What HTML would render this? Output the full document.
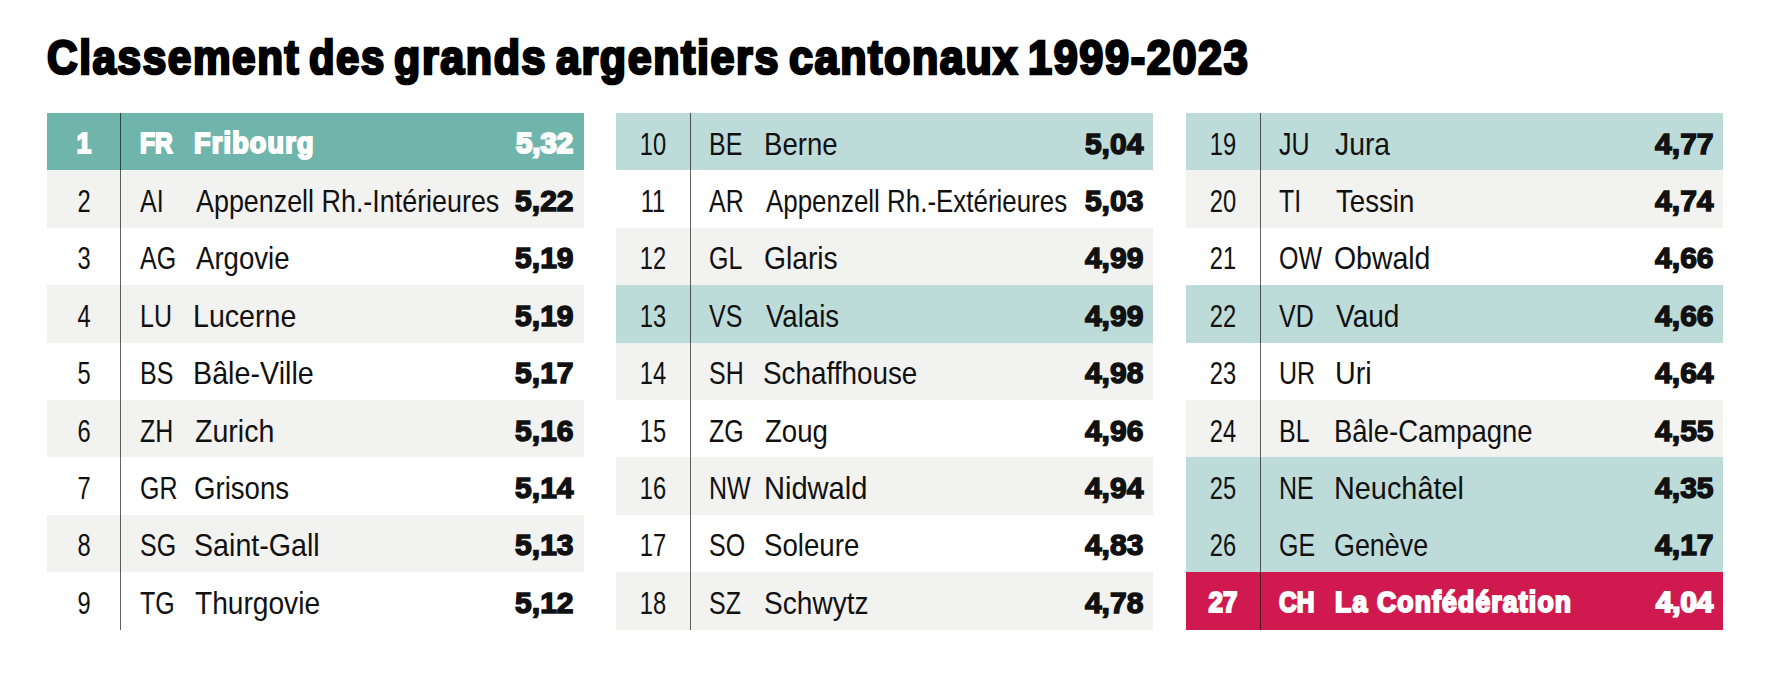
<!DOCTYPE html>
<html lang="fr"><head><meta charset="utf-8"><title>Classement des grands argentiers cantonaux 1999-2023</title>
<style>
html,body{margin:0;padding:0;background:#fff;}
body{width:1770px;height:677px;position:relative;overflow:hidden;font-family:"Liberation Sans",Arial,sans-serif;color:#111;}
h1{position:absolute;left:0;top:33.8px;margin:0;font-size:48px;line-height:1;font-weight:700;white-space:nowrap;-webkit-text-stroke:2.7px #000;color:#000;}
h1 span{position:absolute;top:0;transform-origin:0 0;letter-spacing:1.8px;}
.col{position:absolute;top:113px;width:537px;height:516.6px;}
.row{position:absolute;left:0;width:537px;height:57.4px;}
.row span{position:absolute;top:14.5px;font-size:32px;line-height:1;white-space:nowrap;}
.rk{left:0;width:74px;text-align:center;transform-origin:50% 0;transform:scaleX(0.74);}
.cd{left:93.5px;transform-origin:0 0;transform:scaleX(0.78);}
.nm{transform-origin:0 0;}
.vl{right:10.5px;font-weight:700;transform-origin:100% 0;transform:scaleX(1.0);-webkit-text-stroke:1.5px currentColor;}
.row:not(.hl1):not(.hl2) .vl{font-size:30px;top:15.5px;}
.g{background:#f2f2f0;}
.t{background:#bddbd8;}
.hl1{background:#70b5ab;color:#fff;}
.hl2{background:#d01a4f;color:#fff;}
.hl1 span,.hl2 span{font-weight:700;-webkit-text-stroke:2.1px currentColor;font-size:28.8px;top:16px;}
.hl1 .nm,.hl2 .nm{letter-spacing:1.3px;}
.hl1 .rk,.hl2 .rk{transform:scaleX(0.9);}
.hl1 .cd,.hl2 .cd{transform:scaleX(0.85);}
.hl1 .vl,.hl2 .vl{transform:scaleX(1.02);}
.line{position:absolute;left:74px;top:0;width:1px;height:516.6px;background:rgba(0,0,0,0.62);}
</style></head><body>
<h1><span style="left:47.0px;transform:scaleX(0.8811)">Classement</span> <span style="left:309.4px;transform:scaleX(0.8706)">des</span> <span style="left:394.1px;transform:scaleX(0.8964)">grands</span> <span style="left:556.0px;transform:scaleX(0.8952)">argentiers</span> <span style="left:788.9px;transform:scaleX(0.8973)">cantonaux</span> <span style="left:1027.6px;transform:scaleX(0.9012)">1999-2023</span></h1>
<div class="col" style="left:47px">
<div class="row hl1" style="top:0.0px"><span class="rk">1</span><span class="cd" style="left:92.5px">FR</span><span class="nm" style="left:147.16px;transform:scaleX(0.9368)">Fribourg</span><span class="vl" style="right:10.5px">5,32</span></div>
<div class="row g" style="top:57.4px"><span class="rk">2</span><span class="cd" style="left:92.5px">AI</span><span class="nm" style="left:148.60px;transform:scaleX(0.8400)">Appenzell Rh.-Intérieures</span><span class="vl" style="right:10.5px">5,22</span></div>
<div class="row w" style="top:114.8px"><span class="rk">3</span><span class="cd" style="left:92.5px">AG</span><span class="nm" style="left:148.60px;transform:scaleX(0.8626)">Argovie</span><span class="vl" style="right:10.5px">5,19</span></div>
<div class="row g" style="top:172.2px"><span class="rk">4</span><span class="cd" style="left:92.5px">LU</span><span class="nm" style="left:145.92px;transform:scaleX(0.8937)">Lucerne</span><span class="vl" style="right:10.5px">5,19</span></div>
<div class="row w" style="top:229.6px"><span class="rk">5</span><span class="cd" style="left:92.5px">BS</span><span class="nm" style="left:145.91px;transform:scaleX(0.8969)">Bâle-Ville</span><span class="vl" style="right:10.5px">5,17</span></div>
<div class="row g" style="top:287.0px"><span class="rk">6</span><span class="cd" style="left:92.5px">ZH</span><span class="nm" style="left:147.71px;transform:scaleX(0.8919)">Zurich</span><span class="vl" style="right:10.5px">5,16</span></div>
<div class="row w" style="top:344.4px"><span class="rk">7</span><span class="cd" style="left:92.5px">GR</span><span class="nm" style="left:146.87px;transform:scaleX(0.8626)">Grisons</span><span class="vl" style="right:10.5px">5,14</span></div>
<div class="row g" style="top:401.8px"><span class="rk">8</span><span class="cd" style="left:92.5px">SG</span><span class="nm" style="left:146.81px;transform:scaleX(0.8949)">Saint-Gall</span><span class="vl" style="right:10.5px">5,13</span></div>
<div class="row w" style="top:459.2px"><span class="rk">9</span><span class="cd" style="left:92.5px">TG</span><span class="nm" style="left:147.72px;transform:scaleX(0.8786)">Thurgovie</span><span class="vl" style="right:10.5px">5,12</span></div>
<div class="line" style="left:73px"></div></div>
<div class="col" style="left:616px">
<div class="row t" style="top:0.0px"><span class="rk">10</span><span class="cd" style="left:92.8px">BE</span><span class="nm" style="left:147.81px;transform:scaleX(0.8617)">Berne</span><span class="vl" style="right:9.7px">5,04</span></div>
<div class="row w" style="top:57.4px"><span class="rk">11</span><span class="cd" style="left:92.8px">AR</span><span class="nm" style="left:149.60px;transform:scaleX(0.8100)">Appenzell Rh.-Extérieures</span><span class="vl" style="right:9.7px">5,03</span></div>
<div class="row g" style="top:114.8px"><span class="rk">12</span><span class="cd" style="left:92.8px">GL</span><span class="nm" style="left:147.84px;transform:scaleX(0.8825)">Glaris</span><span class="vl" style="right:9.7px">4,99</span></div>
<div class="row t" style="top:172.2px"><span class="rk">13</span><span class="cd" style="left:92.8px">VS</span><span class="nm" style="left:149.60px;transform:scaleX(0.8619)">Valais</span><span class="vl" style="right:9.7px">4,99</span></div>
<div class="row g" style="top:229.6px"><span class="rk">14</span><span class="cd" style="left:92.8px">SH</span><span class="nm" style="left:147.36px;transform:scaleX(0.8701)">Schaffhouse</span><span class="vl" style="right:9.7px">4,98</span></div>
<div class="row w" style="top:287.0px"><span class="rk">15</span><span class="cd" style="left:92.8px">ZG</span><span class="nm" style="left:148.74px;transform:scaleX(0.8629)">Zoug</span><span class="vl" style="right:9.7px">4,96</span></div>
<div class="row g" style="top:344.4px"><span class="rk">16</span><span class="cd" style="left:92.8px">NW</span><span class="nm" style="left:147.68px;transform:scaleX(0.9083)">Nidwald</span><span class="vl" style="right:9.7px">4,94</span></div>
<div class="row w" style="top:401.8px"><span class="rk">17</span><span class="cd" style="left:92.8px">SO</span><span class="nm" style="left:147.87px;transform:scaleX(0.8636)">Soleure</span><span class="vl" style="right:9.7px">4,83</span></div>
<div class="row g" style="top:459.2px"><span class="rk">18</span><span class="cd" style="left:92.8px">SZ</span><span class="nm" style="left:147.84px;transform:scaleX(0.8776)">Schwytz</span><span class="vl" style="right:9.7px">4,78</span></div>
<div class="line" style="left:74px"></div></div>
<div class="col" style="left:1186px">
<div class="row t" style="top:0.0px"><span class="rk">19</span><span class="cd" style="left:93.0px">JU</span><span class="nm" style="left:148.71px;transform:scaleX(0.8852)">Jura</span><span class="vl" style="right:9.5px">4,77</span></div>
<div class="row g" style="top:57.4px"><span class="rk">20</span><span class="cd" style="left:93.0px">TI</span><span class="nm" style="left:149.54px;transform:scaleX(0.8636)">Tessin</span><span class="vl" style="right:9.5px">4,74</span></div>
<div class="row w" style="top:114.8px"><span class="rk">21</span><span class="cd" style="left:93.0px">OW</span><span class="nm" style="left:147.82px;transform:scaleX(0.8885)">Obwald</span><span class="vl" style="right:9.5px">4,66</span></div>
<div class="row t" style="top:172.2px"><span class="rk">22</span><span class="cd" style="left:93.0px">VD</span><span class="nm" style="left:149.60px;transform:scaleX(0.8771)">Vaud</span><span class="vl" style="right:9.5px">4,66</span></div>
<div class="row w" style="top:229.6px"><span class="rk">23</span><span class="cd" style="left:93.0px">UR</span><span class="nm" style="left:148.61px;transform:scaleX(0.8973)">Uri</span><span class="vl" style="right:9.5px">4,64</span></div>
<div class="row g" style="top:287.0px"><span class="rk">24</span><span class="cd" style="left:93.0px">BL</span><span class="nm" style="left:147.82px;transform:scaleX(0.8586)">Bâle-Campagne</span><span class="vl" style="right:9.5px">4,55</span></div>
<div class="row t" style="top:344.4px"><span class="rk">25</span><span class="cd" style="left:93.0px">NE</span><span class="nm" style="left:147.70px;transform:scaleX(0.9014)">Neuchâtel</span><span class="vl" style="right:9.5px">4,35</span></div>
<div class="row t" style="top:401.8px"><span class="rk">26</span><span class="cd" style="left:93.0px">GE</span><span class="nm" style="left:147.92px;transform:scaleX(0.8404)">Genève</span><span class="vl" style="right:9.5px">4,17</span></div>
<div class="row hl2" style="top:459.2px"><span class="rk">27</span><span class="cd" style="left:93.0px">CH</span><span class="nm" style="left:148.68px;transform:scaleX(0.9208)">La Confédération</span><span class="vl" style="right:9.5px">4,04</span></div>
<div class="line" style="left:74px"></div></div>
</body></html>
